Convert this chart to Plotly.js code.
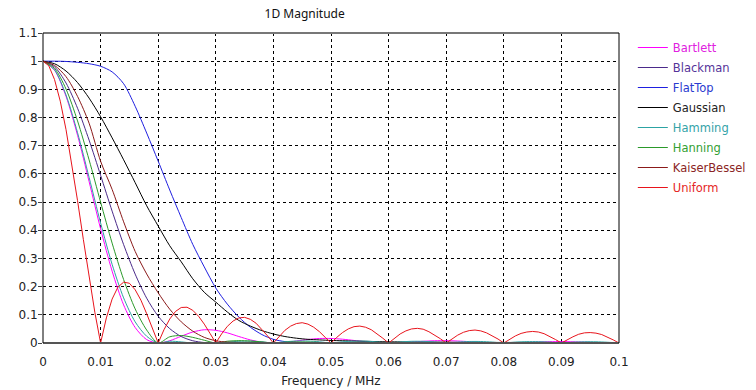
<!DOCTYPE html>
<html>
<head>
<meta charset="utf-8">
<script src="https://cdn.plot.ly/plotly-3.0.1.min.js"></script>
<style>html,body{margin:0;padding:0;background:#fff;}#chart{width:756px;height:390px;}</style>
</head>
<body>
<div id="chart"></div>
<script>
// Frequency axis samples (MHz)
var freqFine = [0,0.001,0.002,0.003,0.004,0.005,0.006,0.007,0.008,0.009,
0.01,0.011,0.012,0.013,0.014,0.015,0.016,0.017,0.018,0.019,
0.02,0.021,0.022,0.023,0.024,0.025,0.026,0.027,0.028,0.029,
0.03,0.031,0.032,0.033,0.034,0.035,0.036,0.037,0.038,0.039,
0.04,0.041,0.042,0.043,0.044,0.045,0.046,0.047,0.048,0.049,
0.05,0.051,0.052,0.053,0.054,0.055,0.056,0.057,0.058,0.059,
0.06,0.061,0.062,0.063,0.064,0.065,0.066,0.067,0.068,0.069,
0.07,0.071,0.072,0.073,0.074,0.075,0.076,0.077,0.078,0.079,
0.08,0.081,0.082,0.083,0.084,0.085,0.086,0.087,0.088,0.089,
0.09,0.091,0.092,0.093,0.094,0.095,0.096,0.097,0.098,0.099,0.1];

var freqCoarse = [0,0.002,0.004,0.006,0.008,0.01,0.012,0.014,0.016,0.018,
0.02,0.022,0.024,0.026,0.028,0.03,0.032,0.034,0.036,0.038,
0.04,0.042,0.044,0.046,0.048,0.05,0.052,0.054,0.056,0.058,
0.06,0.062,0.064,0.066,0.068,0.07,0.072,0.074,0.076,0.078,
0.08,0.082,0.084,0.086,0.088,0.09,0.092,0.094,0.096,0.098,0.1];

// Magnitudes
var bartlett = [1,0.968,0.875,0.737,0.573,0.405,0.255,0.135,0.055,0.012,
0,0.008,0.024,0.039,0.047,0.045,0.036,0.023,0.011,0.003,
0,0.002,0.007,0.0125,0.016,0.016,0.0135,0.009,0.0045,0.001,
0,0.001,0.0034,0.006,0.008,0.0083,0.007,0.0048,0.0024,0.0006,
0,0.0006,0.002,0.0036,0.0047,0.005,0.0043,0.003,0.0015,0.0004,0];

var blackman = [1,0.980,0.9225,0.833,0.720,0.595,0.468,0.349,0.2445,0.159,
0.095,0.051,0.023,0.008,0.0016,0,0.0005,0.001,0.001,0.0006,
0,0.0004,0.0007,0.0007,0.0004,0,0.0003,0.0005,0.0005,0.0003,
0,0.0003,0.0004,0.0004,0.0002,0,0.0002,0.0003,0.0003,0.0002,
0,0.0002,0.0003,0.0003,0.0002,0,0.0002,0.0002,0.0002,0.0001,0];

var flatTop = [1,1,0.999,0.996,0.991,0.982,0.962,0.92,0.84,0.745,
0.645,0.543,0.445,0.35,0.27,0.195,0.138,0.092,0.056,0.03,
0.013,0.005,0.002,0.001,0.001,0.001,0.001,0.001,0.001,0.001,
0.001,0.001,0.001,0.001,0.001,0.001,0.001,0.001,0.001,0.001,
0.001,0.001,0.001,0.001,0.001,0.001,0.001,0.001,0.001,0.001,0.001];

var gaussian = [1,0.991,0.965,0.924,0.869,0.803,0.728,0.65,0.569,0.487,
0.415,0.345,0.288,0.228,0.18,0.145,0.11,0.08,0.06,0.044,
0.032,0.023,0.017,0.013,0.011,0.009,0.008,0.007,0.006,0.005,
0.004,0.004,0.003,0.003,0.003,0.003,0.002,0.002,0.002,0.002,
0.002,0.002,0.002,0.001,0.001,0.001,0.001,0.001,0.001,0.001,0.001];

var hamming = [1,0.969,0.880,0.746,0.588,0.426,0.279,0.160,0.075,0.024,
0,0.0063,0.0039,0,0.0016,0,0.0033,0.006,0.0065,0.0042,
0,0.0043,0.007,0.007,0.0043,0,0.0042,0.0066,0.0065,0.0039,
0,0.0038,0.006,0.0059,0.0036,0,0.0034,0.0054,0.0053,0.0032,
0,0.0031,0.0049,0.0048,0.0029,0,0.0028,0.0044,0.0044,0.0027,0];

var hanning = [1,0.9745,0.901,0.788,0.650,0.5,0.3545,0.225,0.121,0.046,
0,0.022,0.0265,0.020,0.0098,0,0.0063,0.0084,0.007,0.0037,
0,0.0027,0.0037,0.0033,0.0018,0,0.0014,0.002,0.0018,0.001,
0,0.0008,0.0012,0.0011,0.0006,0,0.0005,0.0007,0.0007,0.0004,
0,0.0003,0.0005,0.0005,0.0003,0,0.0002,0.0004,0.0003,0.0002,0];

var kaiserBessel = [1,0.985,0.945,0.875,0.78,0.645,0.545,0.43,0.325,0.245,
0.178,0.12,0.075,0.042,0.02,0.008,0.003,0.002,0.002,0.001,
0,0.001,0.001,0.001,0.001,0,0.0005,0.0005,0.0005,0.0005,
0,0.0005,0.0005,0.0005,0.0005,0,0.0004,0.0004,0.0004,0.0004,
0,0.0003,0.0003,0.0003,0.0003,0,0.0003,0.0003,0.0003,0.0003,0];

var uniform = [1,0.984,0.935,0.858,0.757,0.637,0.505,0.368,0.234,0.109,0,
0.089,0.156,0.198,0.216,0.212,0.189,0.152,0.104,0.052,0,
0.047,0.085,0.112,0.126,0.127,0.116,0.095,0.067,0.034,0,
0.032,0.059,0.078,0.089,0.091,0.084,0.070,0.049,0.025,0,
0.024,0.045,0.060,0.069,0.072,0.067,0.056,0.040,0.020,0,
0.020,0.037,0.050,0.058,0.060,0.056,0.047,0.033,0.017,0,
0.017,0.032,0.043,0.050,0.052,0.049,0.040,0.029,0.015,0,
0.015,0.028,0.038,0.044,0.046,0.043,0.036,0.026,0.014,0,
0.013,0.025,0.034,0.039,0.041,0.039,0.033,0.023,0.012,0,
0.012,0.022,0.031,0.036,0.037,0.035,0.030,0.021,0.011,0];

var seriesNames = ["Bartlett","Blackman","FlatTop","Gaussian","Hamming","Hanning","KaiserBessel","Uniform"];
var seriesColors = ["#ff00ff","#4b2a8a","#1f1fe0","#000000","#2ca3a3","#2a9a2a","#8b1a1a","#e8141c"];
var textColors = ["#e020e0","#553399","#2a3ad0","#222222","#35a3a8","#33a033","#8b2525","#e52626"];
var seriesData = [bartlett, blackman, flatTop, gaussian, hamming, hanning, kaiserBessel, uniform];

var traces = seriesNames.map(function(n, i){
  var isUniform = (n === "Uniform");
  return {
    type: "scatter",
    mode: "lines",
    x: isUniform ? freqFine : freqCoarse,
    y: seriesData[i],
    name: '<span style="color:' + textColors[i] + '">' + n + '</span>',
    legendgroup: n,
    line: {color: seriesColors[i], width: 1, shape: isUniform ? "linear" : "spline", smoothing: 0.8},
    hoverinfo: "skip"
  };
});

var fontMain = "DejaVu Sans, Verdana, sans-serif";

var layout = {
  width: 756,
  height: 390,
  margin: {l: 43, r: 137, t: 33, b: 47, pad: 0, autoexpand: false},
  paper_bgcolor: "#ffffff",
  plot_bgcolor: "#ffffff",
  title: {
    text: "1D Magnitude",
    font: {family: "Noto Sans, Open Sans, sans-serif", size: 12, color: "#111"},
    xref: "container", yref: "container",
    x: 0.403, xanchor: "center",
    y: 0.964, yanchor: "middle"
  },
  xaxis: {
    range: [0, 0.1],
    dtick: 0.01,
    tick0: 0,
    showgrid: true,
    gridcolor: "#000000",
    griddash: "3px,3px",
    gridwidth: 1,
    zeroline: false,
    showline: false,
    ticks: "outside",
    ticklen: 4,
    tickcolor: "rgba(0,0,0,0)",
    ticklabelstandoff: 4,
    tickfont: {family: fontMain, size: 12, color: "#222"},
    title: {text: "Frequency / MHz", font: {family: fontMain, size: 12, color: "#222"}, standoff: 8},
    fixedrange: true
  },
  yaxis: {
    range: [0, 1.1],
    dtick: 0.1,
    tick0: 0,
    showgrid: true,
    gridcolor: "#000000",
    griddash: "3px,3px",
    gridwidth: 1,
    zeroline: false,
    showline: false,
    ticks: "outside",
    ticklen: 4,
    tickcolor: "#444",
    ticklabelstandoff: -2,
    tickfont: {family: fontMain, size: 12, color: "#222"},
    fixedrange: true
  },
  showlegend: true,
  legend: {
    x: 1.024, xanchor: "left",
    y: 1.0, yanchor: "top",
    bgcolor: "rgba(0,0,0,0)",
    borderwidth: 0,
    font: {family: fontMain, size: 11.5, color: "#222"},
    tracegroupgap: 1
  },
  shapes: [
    {type: "line", xref: "paper", yref: "paper", x0: 0, x1: 1, y0: 1, y1: 1, line: {color: "#777", width: 2}},
    {type: "line", xref: "paper", yref: "paper", x0: 0, x1: 1, y0: 0, y1: 0, line: {color: "#555", width: 2}},
    {type: "line", xref: "paper", yref: "paper", x0: 0, x1: 0, y0: 0, y1: 1, line: {color: "#000", width: 1}},
    {type: "line", xref: "paper", yref: "paper", x0: 1, x1: 1, y0: 0, y1: 1, line: {color: "#000", width: 1}}
  ],
  hovermode: false
};

Plotly.newPlot("chart", traces, layout, {staticPlot: true, displayModeBar: false});
</script>
</body>
</html>
